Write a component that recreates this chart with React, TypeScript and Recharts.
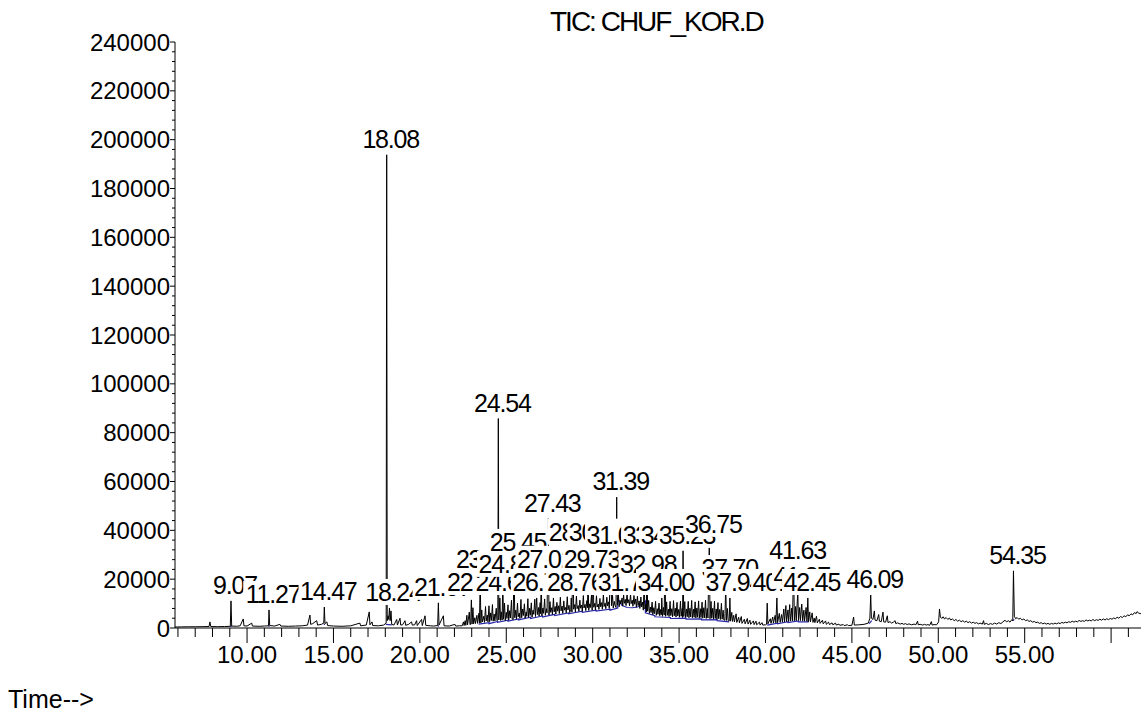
import { ComposedChart, Line, Scatter, XAxis, YAxis } from "recharts";

const FONT = '"Liberation Sans", Arial, Helvetica, sans-serif';

// TIC trace, [retention time (min), abundance]
const traceEarly: [number, number][] = [
  [5.83, 400], [6.2, 450], [6.6, 500], [7.0, 500], [7.4, 550], [7.8, 600], [7.85, 2500], [7.9, 600],
  [8.3, 550], [8.7, 600], [9.03, 700], [9.07, 11100], [9.11, 800], [9.4, 700], [9.6, 900], [9.78, 3700],
  [9.82, 900], [10.0, 800], [10.27, 2000], [10.31, 800], [10.7, 700], [11.0, 800], [11.24, 900],
  [11.27, 7400], [11.31, 1000], [11.6, 800], [11.9, 1500], [11.95, 800], [12.4, 700], [12.8, 800],
  [13.2, 900], [13.5, 1200], [13.64, 5300], [13.68, 1500], [13.8, 1800], [14.03, 3000], [14.08, 1200],
  [14.3, 1500], [14.44, 2000], [14.47, 8600], [14.51, 1800], [14.62, 2500], [14.66, 1000], [15.0, 800],
  [15.5, 700], [16.0, 900], [16.53, 2000], [16.57, 900], [16.9, 1200], [17.07, 6600], [17.11, 1300],
  [17.23, 2500], [17.27, 1000], [17.6, 900], [17.9, 1200], [18.05, 2000], [18.08, 193800], [18.11, 3000],
  [18.16, 5000], [18.2, 3500], [18.24, 8200], [18.28, 3000], [18.33, 7000], [18.37, 1500], [18.5, 1200],
  [18.66, 3500], [18.7, 1200], [18.85, 4000], [18.89, 1200], [19.0, 1300], [19.14, 3000], [19.18, 1100],
  [19.35, 1500], [19.52, 2500], [19.56, 1200], [19.7, 1300], [19.81, 3000], [19.85, 1000], [20.1, 3500],
  [20.14, 1000], [20.3, 5000], [20.34, 1100], [20.6, 900], [20.8, 800], [21.03, 1000], [21.07, 10300],
  [21.11, 1200], [21.36, 5000], [21.4, 900], [21.7, 800], [22.03, 1500], [22.07, 800], [22.3, 900],
];

const traceHump: [number, number][] = [
  [22.45, 900], [22.52, 2500], [22.56, 1000], [22.62, 3000], [22.66, 1100], [22.72, 5200], [22.76, 1300],
  [22.86, 6500], [22.9, 1400], [22.94, 1500], [22.98, 12300], [23.02, 1600], [23.07, 8300], [23.11, 1700],
  [23.18, 4200], [23.22, 1800], [23.3, 5200], [23.34, 1900], [23.42, 6100], [23.45, 2000], [23.49, 21800],
  [23.53, 2100], [23.58, 7400], [23.62, 2500], [23.7, 4800], [23.74, 2300], [23.8, 8800], [23.84, 2900],
  [23.9, 5300], [23.94, 2500], [24.0, 9100], [24.04, 2600], [24.1, 6200], [24.14, 3100], [24.2, 9600],
  [24.24, 2800], [24.3, 5700], [24.34, 2900], [24.42, 8100], [24.46, 3000], [24.51, 3300], [24.54, 85800],
  [24.57, 3300], [24.63, 12300], [24.67, 3100], [24.72, 6600], [24.76, 3200], [24.8, 19700], [24.84, 3600],
  [24.9, 10200], [24.94, 3000], [25.0, 6400], [25.04, 3900], [25.1, 9500], [25.14, 3200], [25.2, 7100],
  [25.24, 4100], [25.3, 11400], [25.34, 3700], [25.4, 3500], [25.45, 28700], [25.49, 4200], [25.55, 7300],
  [25.59, 3600], [25.65, 10200], [25.69, 4600], [25.75, 6100], [25.79, 3900], [25.85, 11700], [25.89, 4200],
  [25.95, 7800], [25.99, 5100], [26.05, 9900], [26.09, 4000], [26.15, 6600], [26.19, 4800], [26.25, 12000],
  [26.29, 4300], [26.35, 8100], [26.39, 5200], [26.45, 10300], [26.49, 4400], [26.55, 7300], [26.59, 5600],
  [26.65, 11800], [26.69, 4700], [26.76, 12300], [26.8, 5500], [26.86, 8400], [26.9, 4900], [26.96, 10400],
  [26.99, 5800], [27.02, 21800], [27.06, 5000], [27.12, 8200], [27.16, 6000], [27.22, 11900], [27.26, 5200],
  [27.32, 7900], [27.36, 6200], [27.43, 44800], [27.47, 5300], [27.53, 10800], [27.57, 6400], [27.63, 8300],
  [27.67, 5500], [27.73, 12300], [27.77, 6600], [27.83, 8800], [27.87, 5700], [27.93, 10500], [27.97, 6900],
  [28.03, 9100], [28.07, 5900], [28.13, 12600], [28.17, 7000], [28.23, 9000], [28.27, 6000], [28.33, 11100],
  [28.37, 7300], [28.43, 8400], [28.47, 6200], [28.53, 12800], [28.57, 7400], [28.63, 9300], [28.67, 6300],
  [28.73, 7600], [28.76, 12300], [28.8, 6500], [28.86, 32900], [28.9, 7700], [28.96, 9600], [29.0, 6600],
  [29.06, 13100], [29.1, 7900], [29.16, 9200], [29.2, 6800], [29.26, 11400], [29.3, 8100], [29.36, 9400],
  [29.4, 6900], [29.46, 13300], [29.5, 8200], [29.56, 9700], [29.6, 7100], [29.66, 11200], [29.7, 8300],
  [29.73, 21800], [29.77, 7200], [29.83, 9900], [29.87, 8400], [29.93, 13500], [29.97, 7300], [30.02, 32900],
  [30.06, 8500], [30.12, 10100], [30.16, 7400], [30.22, 13200], [30.26, 8600], [30.32, 9800], [30.36, 7600],
  [30.42, 12100], [30.46, 8700], [30.52, 10400], [30.56, 7700], [30.62, 13800], [30.66, 8800], [30.72, 10200],
  [30.76, 7900], [30.82, 12600], [30.86, 9000], [30.92, 10700], [30.96, 8000], [31.05, 31600], [31.09, 9100],
  [31.15, 13400], [31.19, 8200], [31.25, 10900], [31.29, 9300], [31.35, 8400], [31.39, 53600], [31.43, 9500],
  [31.49, 13900], [31.53, 8700], [31.59, 11300], [31.63, 9800], [31.7, 12300], [31.74, 9000], [31.79, 13600],
  [31.83, 10100], [31.89, 11700], [31.93, 9200], [31.99, 14100], [32.03, 10200], [32.09, 11600], [32.13, 9100],
  [32.19, 13800], [32.23, 10000], [32.29, 11400], [32.33, 8900], [32.39, 13300], [32.43, 9700], [32.49, 11900],
  [32.53, 8500], [32.59, 13000], [32.63, 9200], [32.69, 11100], [32.73, 8000], [32.79, 12700], [32.83, 8600],
  [32.89, 10600], [32.93, 7300], [32.98, 19700], [33.02, 7800], [33.08, 9800], [33.11, 6600], [33.14, 31600],
  [33.18, 6900], [33.24, 11300], [33.28, 6000], [33.34, 8600], [33.38, 6300], [33.44, 10600], [33.48, 5500],
  [33.54, 8300], [33.58, 5900], [33.64, 10900], [33.68, 5200], [33.74, 7900], [33.78, 5600], [33.84, 10200],
  [33.88, 5000], [33.94, 7600], [33.97, 5400], [34.0, 12300], [34.04, 4800], [34.1, 8400], [34.14, 5300],
  [34.18, 31600], [34.22, 4800], [34.28, 10700], [34.32, 5200], [34.38, 7700], [34.42, 4700], [34.48, 10900],
  [34.52, 5100], [34.58, 7900], [34.62, 4600], [34.68, 11200], [34.72, 5000], [34.78, 8100], [34.82, 4500],
  [34.88, 10500], [34.92, 4900], [34.98, 7600], [35.02, 4400], [35.08, 11000], [35.12, 4800], [35.18, 8000],
  [35.2, 4300], [35.23, 31600], [35.27, 4700], [35.33, 10800], [35.37, 4300], [35.43, 7800], [35.47, 4600],
  [35.53, 10900], [35.57, 4200], [35.63, 8100], [35.67, 4500], [35.73, 11300], [35.77, 4200], [35.83, 7700],
  [35.87, 4400], [35.93, 10700], [35.97, 4100], [36.03, 8200], [36.07, 4400], [36.13, 11100], [36.17, 4000],
  [36.23, 7900], [36.27, 4300], [36.33, 10600], [36.37, 4000], [36.43, 8300], [36.47, 4200], [36.53, 11400],
  [36.57, 3900], [36.63, 8000], [36.67, 4100], [36.75, 36100], [36.79, 3800], [36.85, 10900], [36.89, 4000],
  [36.95, 8100], [36.99, 3700], [37.05, 11000], [37.09, 3900], [37.15, 7800], [37.19, 3600], [37.25, 10400],
  [37.29, 3800], [37.35, 7600], [37.39, 3500], [37.45, 10100], [37.49, 3600], [37.55, 7300], [37.59, 3300],
  [37.65, 3200], [37.7, 18000], [37.74, 3100], [37.8, 8000], [37.84, 3000], [37.9, 2900], [37.94, 12300],
  [37.98, 2800], [38.05, 6400], [38.09, 2700], [38.16, 5200], [38.2, 2500], [38.3, 5800], [38.34, 2300],
  [38.45, 4400], [38.49, 2100], [38.6, 4700], [38.64, 1900], [38.78, 3600], [38.82, 1700], [38.95, 3900],
  [38.99, 1600], [39.1, 3200], [39.14, 1500], [39.3, 2900], [39.34, 1400], [39.45, 2800], [39.49, 1300],
  [39.65, 2400], [39.69, 1200], [39.8, 2200], [39.84, 1200], [40.0, 1300], [40.06, 1500], [40.1, 10200],
  [40.14, 1700], [40.28, 3800], [40.32, 1900], [40.42, 4500], [40.46, 2000], [40.56, 5200], [40.6, 2100],
  [40.66, 12300], [40.7, 2200], [40.8, 6000], [40.85, 2300], [40.93, 5500], [40.98, 2400], [41.06, 7800],
  [41.1, 2500], [41.18, 9200], [41.22, 2600], [41.3, 7400], [41.34, 2700], [41.4, 9600], [41.45, 2800],
  [41.52, 8200], [41.56, 2900], [41.63, 25500], [41.67, 3000], [41.74, 8800], [41.78, 3000], [41.87, 14800],
  [41.91, 3100], [41.98, 8400], [42.02, 3000], [42.1, 9800], [42.15, 2900], [42.22, 7300], [42.26, 2800],
  [42.35, 8400], [42.4, 2700], [42.45, 12300], [42.49, 2600], [42.56, 6600], [42.6, 2500], [42.7, 6200],
  [42.75, 2300], [42.82, 4100], [42.86, 2200], [42.95, 4800], [43.0, 2100], [43.12, 3600], [43.16, 1900],
  [43.3, 3200], [43.34, 1700], [43.48, 2900], [43.52, 1500], [43.65, 2400], [43.7, 1400], [43.85, 2100],
  [43.9, 1300], [44.05, 2000], [44.1, 1200], [44.25, 1600], [44.3, 1100], [44.5, 1400], [44.55, 1000],
  [44.75, 1300], [44.8, 1000],
];

const traceLate: [number, number][] = [
  [45.0, 1100], [45.1, 4500], [45.14, 1200], [45.4, 1300], [45.7, 1500], [45.95, 2000], [46.04, 4000],
  [46.09, 13500], [46.13, 4000], [46.22, 3500], [46.3, 7000], [46.34, 3200], [46.45, 3000], [46.55, 5500],
  [46.59, 2800], [46.7, 2600], [46.8, 6500], [46.84, 2500], [46.95, 2400], [47.05, 5000], [47.09, 2200],
  [47.2, 2600], [47.3, 2000], [47.4, 2400], [47.5, 3000], [47.54, 1800], [47.65, 2100], [47.8, 1600],
  [47.9, 1900], [48.0, 1500], [48.1, 1800], [48.2, 1400], [48.3, 1700], [48.45, 1300], [48.6, 1600],
  [48.7, 1300], [48.8, 2800], [48.84, 1300], [48.95, 1500], [49.1, 1200], [49.2, 1500], [49.3, 1200],
  [49.4, 1400], [49.5, 1100], [49.6, 2600], [49.64, 1200], [49.75, 1400], [49.9, 1300], [50.02, 2500],
  [50.07, 7800], [50.12, 4500], [50.2, 3900], [50.28, 4600], [50.36, 3700], [50.45, 4300], [50.55, 3500],
  [50.64, 4100], [50.72, 3300], [50.82, 3700], [50.92, 3000], [51.02, 3500], [51.12, 2800], [51.22, 3200],
  [51.32, 2600], [51.42, 3000], [51.52, 2400], [51.62, 2800], [51.72, 2200], [51.82, 2600], [51.92, 2000],
  [52.02, 2400], [52.12, 1900], [52.22, 2200], [52.32, 1700], [52.42, 2000], [52.55, 1600], [52.62, 3000],
  [52.66, 1500], [52.78, 1900], [52.9, 1400], [53.02, 1800], [53.14, 1500], [53.26, 2000], [53.38, 1600],
  [53.5, 2200], [53.62, 1800], [53.74, 2500], [53.86, 3200], [53.95, 2500], [54.05, 3000], [54.15, 2400],
  [54.25, 3400], [54.31, 3000], [54.35, 23400], [54.4, 4800], [54.48, 3800], [54.56, 4300], [54.65, 3600],
  [54.75, 4000], [54.85, 3300], [54.95, 3700], [55.05, 3000], [55.15, 3300], [55.25, 2700], [55.35, 3000],
  [55.45, 2400], [55.55, 2700], [55.65, 2200], [55.75, 2400], [55.85, 1900], [55.95, 2200], [56.05, 1700],
  [56.15, 2000], [56.25, 1600], [56.35, 1900], [56.45, 1500], [56.55, 1900], [56.65, 1600], [56.75, 2000],
  [56.85, 1700], [56.95, 2100], [57.05, 1800], [57.15, 2300], [57.25, 2000], [57.35, 2400], [57.45, 2100],
  [57.55, 2600], [57.65, 2300], [57.75, 2800], [57.85, 2400], [57.95, 2800], [58.05, 2500], [58.15, 3100],
  [58.25, 2700], [58.35, 3000], [58.45, 2700], [58.55, 3300], [58.65, 2900], [58.75, 3200], [58.85, 2900],
  [58.95, 3500], [59.05, 3000], [59.15, 3400], [59.25, 3100], [59.35, 3600], [59.45, 3200], [59.55, 3700],
  [59.65, 3300], [59.75, 3800], [59.85, 3400], [59.95, 3900], [60.05, 3600], [60.15, 4100], [60.25, 3800],
  [60.35, 4400], [60.45, 4000], [60.55, 4700], [60.65, 4300], [60.75, 5000], [60.85, 4600], [60.95, 5400],
  [61.05, 5000], [61.15, 5800], [61.25, 5400], [61.35, 6300], [61.45, 5900], [61.5, 6700], [61.6, 6100],
  [61.73, 5800],
];

// integration baselines, null breaks the line between peak groups
const baselines: [number, number | null][] = [
  [9.03, 600], [9.11, 700], [9.2, null], [11.24, 700], [11.31, 800], [11.4, null],
  [14.44, 1500], [14.51, 1500], [14.6, null], [18.03, 1500], [18.37, 1300], [18.5, null],
  [21.03, 800], [21.11, 900], [21.2, null],
  [23.4, 1600], [24.0, 2200], [24.0, 1800], [24.5, 2700], [24.5, 2300], [25.1, 3200], [25.1, 2800],
  [25.7, 3700], [25.7, 3300], [26.4, 4400], [26.4, 3900], [27.1, 4900], [27.1, 4500], [27.8, 5600],
  [27.8, 5100], [28.6, 6200], [28.6, 5800], [29.4, 6900], [29.4, 6400], [30.2, 7300], [30.2, 6900],
  [31.0, 7700], [31.0, 7300], [31.45, 8200], [31.45, 12000], [31.7, 9200], [32.0, 8400], [32.3, 8300],
  [32.6, 8600], [32.9, 10000], [33.05, 11000], [33.05, 6200], [33.6, 5000], [33.6, 4600], [34.5, 4300],
  [34.5, 3900], [35.4, 4000], [35.4, 3600], [36.3, 3700], [36.3, 3300], [37.2, 3400], [37.2, 3000],
  [37.9, 2500], [38.0, null],
  [40.1, 1200], [40.7, 2000], [40.7, 1700], [41.3, 2600], [41.3, 2200], [41.9, 2900], [41.9, 2500],
  [42.5, 2500], [42.6, null], [46.0, 1800], [46.15, 3000], [46.2, null], [54.3, 3000], [54.4, 3500],
];

// labelled peaks: [retention time, apex abundance]
const peaks: [number, number][] = [
  [9.07, 11100], [11.27, 7400], [14.47, 8600], [18.08, 193800], [18.24, 8200], [21.07, 10300],
  [22.98, 12300], [23.49, 21800], [24.54, 85800], [24.63, 12300], [24.8, 19700], [25.45, 28700],
  [26.76, 12300], [27.02, 21800], [27.43, 44800], [28.76, 12300], [28.86, 32900], [29.73, 21800],
  [30.02, 32900], [31.05, 31600], [31.39, 53600], [31.7, 12300], [32.98, 19700], [33.14, 31600],
  [34.0, 12300], [34.18, 31600], [35.23, 31600], [36.75, 36100], [37.7, 18000], [37.94, 12300],
  [40.66, 12300], [41.63, 25500], [41.87, 14800], [42.45, 12300], [46.09, 13500], [54.35, 23400],
];

const xTicks = [6, 7, 8, 9, 10, 11, 12, 13, 14, 15, 16, 17, 18, 19, 20, 21, 22, 23, 24, 25, 26, 27, 28, 29, 30,
  31, 32, 33, 34, 35, 36, 37, 38, 39, 40, 41, 42, 43, 44, 45, 46, 47, 48, 49, 50, 51, 52, 53, 54, 55, 56, 57,
  58, 59, 60, 61];
const xLabelled = [10, 15, 20, 25, 30, 35, 40, 45, 50, 55];
const yTicks = Array.from({ length: 61 }, (_, i) => i * 4000);

const trace = [...traceEarly, ...traceHump, ...traceLate].map(([t, v]) => ({ t, v }));
const baselineData = baselines.map(([t, v]) => ({ t, v }));
const peakData = peaks.map(([t, v]) => ({ t, v, label: t.toFixed(2) }));

function labelWidth(s: string) {
  let w = 0;
  for (const ch of s) w += ch === "." ? 5.75 : 12.7;
  return w;
}

function YTick(props: any) {
  const { x, y, payload } = props;
  const major = payload.value % 20000 === 0;
  return (
    <g>
      <line x1={x - (major ? 5 : 3)} x2={x} y1={y} y2={y} stroke="#000" />
      {major && (
        <text x={x - 5} y={y} dy="0.36em" textAnchor="end" fontSize={24} fontFamily={FONT} fill="#000">
          {payload.value}
        </text>
      )}
    </g>
  );
}

function XTick(props: any) {
  const { x, y, payload } = props;
  const major = payload.value % 5 === 0;
  return (
    <g>
      <line x1={x} x2={x} y1={y} y2={y + (major ? 15 : 9)} stroke="#000" />
      {xLabelled.includes(payload.value) && (
        <text x={x} y={y + 35} textAnchor="middle" fontSize={24} fontFamily={FONT} fill="#000">
          {payload.value.toFixed(2)}
        </text>
      )}
    </g>
  );
}

// retention-time tag on a white box, drawn over the trace and earlier tags
function PeakLabel(props: any) {
  const { cx, cy, payload } = props;
  if (cx == null || cy == null) return null;
  const w = labelWidth(payload.label);
  const tx = cx + 4;
  const base = cy - 7;
  return (
    <g>
      <rect x={tx - w / 2 - 1.5} y={base - 22} width={w + 3} height={26} fill="#fff" />
      <text x={tx} y={base} textAnchor="middle" fontSize={25} letterSpacing={-1.2} fontFamily={FONT} fill="#000">
        {payload.label}
      </text>
    </g>
  );
}

export default function App() {
  return (
    <div style={{ position: "absolute", left: 0, top: 0, width: 1145, height: 715, background: "#fff" }}>
      <ComposedChart width={1145} height={715} margin={{ top: 42, right: 4, bottom: 0, left: 0 }}>
        <XAxis
          type="number"
          dataKey="t"
          domain={[5.83, 61.73]}
          allowDataOverflow
          ticks={xTicks}
          interval={0}
          height={87}
          tickSize={0}
          tickMargin={0}
          tickLine={false}
          axisLine={{ stroke: "#000" }}
          tick={<XTick />}
        />
        <YAxis
          type="number"
          dataKey="v"
          domain={[0, 240000]}
          ticks={yTicks}
          interval={0}
          width={175}
          tickSize={0}
          tickMargin={0}
          tickLine={false}
          axisLine={{ stroke: "#000" }}
          tick={<YTick />}
        />
        <Line data={baselineData} dataKey="v" stroke="#2727a8" strokeWidth={1.2} dot={false} isAnimationActive={false} />
        <Line data={trace} dataKey="v" stroke="#000" strokeWidth={1} dot={false} isAnimationActive={false} />
        <Scatter data={peakData} dataKey="v" shape={<PeakLabel />} isAnimationActive={false} />
      </ComposedChart>
      <svg width={1145} height={715} style={{ position: "absolute", left: 0, top: 0, pointerEvents: "none" }}>
        <text x={550} y={31} fontSize={28} letterSpacing={-2} fontFamily={FONT} fill="#000">
          TIC: CHUF_KOR.D
        </text>
        <text x={8} y={708} fontSize={25} fontFamily={FONT} fill="#000">
          Time--&gt;
        </text>
      </svg>
    </div>
  );
}
